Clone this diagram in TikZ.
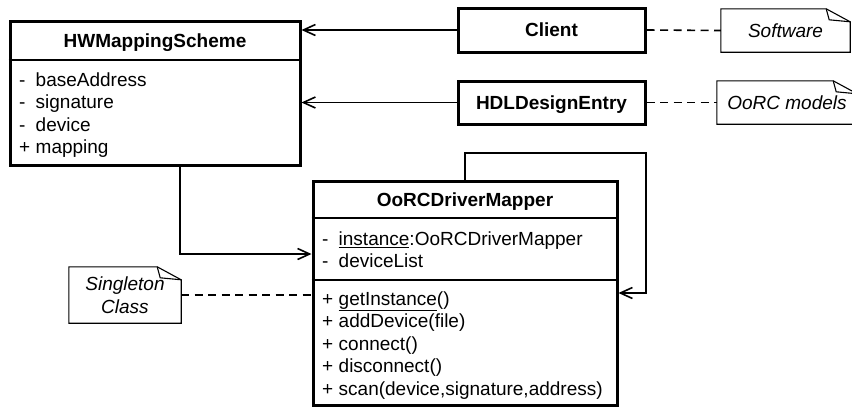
\documentclass[tikz,border=0pt]{standalone}
\usepackage{fontspec}
\setmainfont{Liberation Sans}
\usetikzlibrary{arrows.meta}

\newcommand{\vis}[1]{\makebox[16.5pt][l]{#1}}
\newcommand{\notefold}[1]{%
    \draw[noteline] (#1.north west) -- ([xshift=-24pt]#1.north east) -- ([yshift=-13pt]#1.north east) -- (#1.south east) -- (#1.south west) -- cycle;
    \draw[noteline] ([xshift=-24pt]#1.north east) -- ([xshift=-21pt,yshift=-11pt]#1.north east) -- ([yshift=-13pt]#1.north east);
}

\tikzset{
    classbox/.style={draw, line width=3pt, inner sep=0pt},
    classtitle/.style={font=\fontsize{19}{22.5}\selectfont\bfseries, text height=13.6pt, text depth=0pt, inner sep=0pt},
    members/.style={font=\fontsize{19}{22.5}\selectfont, align=left, anchor=north west, inner sep=0pt},
    divider/.style={line width=2.5pt},
    notebox/.style={font=\fontsize{19}{22.5}\selectfont\itshape, align=center, inner sep=0pt},
    noteline/.style={line width=1.1pt, line join=miter},
    assoc/.style={line width=1.6pt, -{Straight Barb[length=12pt,width=11pt,line width=1.6pt]}},
    notelink/.style={line width=1.6pt, dash pattern=on 8pt off 5.5pt},
}

\begin{document}
\begin{tikzpicture}[x=1pt,y=1pt]
            \begin{scope}
                \fill [color=white] (0,0) rectangle (852,-407);
                \useasboundingbox (0,0) rectangle (852,-407);

                \node [classbox, minimum width=290pt, minimum height=144pt] (hw) at (155,-93) {};
                \draw [divider] (hw.west |- 0,-60) -- (hw.east |- 0,-60);
                \node [classtitle] (hwname) at (155,-40.5) {HWMappingScheme};
                \node [members] (hwattrs) at (19,-70.25) {\strut\vis{-}baseAddress\\\vis{-}signature\\\vis{-}device\\\vis{+}mapping};

                \node [classbox, classtitle, minimum width=187pt, minimum height=44pt] (client) at (551.5,-30) {Client};
                \node [classbox, classtitle, minimum width=187pt, minimum height=43pt] (hdl) at (551.5,-102.5) {HDLDesignEntry};

                \node [notebox, minimum width=129pt, minimum height=43pt] (software) at (785.5,-30.5) {Software};
                \node [notebox, minimum width=140pt, minimum height=43pt] (oorcnote) at (787,-102.5) {OoRC models};
                \notefold{software}
                \notefold{oorcnote}

                \node [classbox, minimum width=304pt, minimum height=224pt] (oorc) at (465,-293) {};
                \draw [divider] (oorc.west |- 0,-218) -- (oorc.east |- 0,-218);
                \draw [divider] (oorc.west |- 0,-280) -- (oorc.east |- 0,-280);
                \node [classtitle] (oorcname) at (465,-199.5) {OoRCDriverMapper};
                \node [members] (oorcattrs) at (322,-229.25) {\strut\vis{-}\underline{instance}:OoRCDriverMapper\\\vis{-}deviceList};
                \node [members] (oorcops) at (322,-289.25) {\strut\vis{+}\underline{getInstance}()\\\vis{+}addDevice(file)\\\vis{+}connect()\\\vis{+}disconnect()\\\vis{+}scan(device,signature,address)};

                \node [notebox, minimum width=112pt, minimum height=56pt] (singleton) at (125,-295) {Singleton\\Class};
                \notefold{singleton}

                \draw [assoc] (client.west) -- (client.west -| hw.east);
                \draw [assoc] (hdl.west) -- (hdl.west -| hw.east);
                \draw [assoc] ([xshift=25pt]hw.south) |- (oorc.west |- 0,-254);
                \coordinate (selfloop) at (646,-153);
                \draw [assoc] (oorc.north) |- (selfloop) |- (oorc.east |- 0,-293);

                \draw [notelink] (client.east) -- (software.west);
                \draw [notelink] (hdl.east) -- (oorcnote.west);
                \draw [notelink] (singleton.east) -- (singleton.east -| oorc.west);

            \end{scope}
        \end{tikzpicture}
\end{document}
